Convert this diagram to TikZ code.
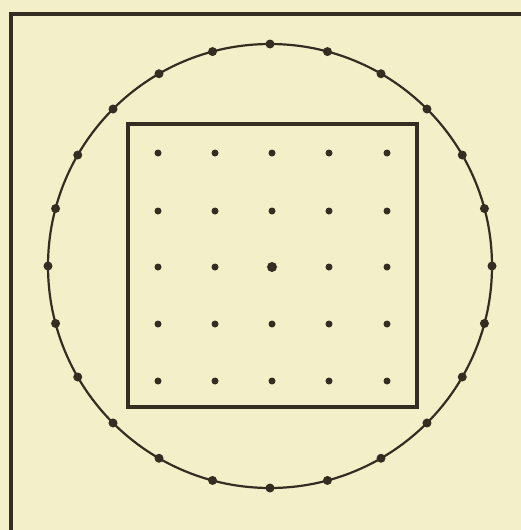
\documentclass[tikz,border=0pt]{standalone}
\usetikzlibrary{calc}
\definecolor{paper}{RGB}{243,239,200}
\definecolor{ink}{RGB}{52,46,34}
\begin{document}
\begin{tikzpicture}[x=1pt,y=-1pt,
  rimdot/.style={circle,fill=ink,inner sep=0pt,minimum size=9pt},
  griddot/.style={circle,fill=ink,inner sep=0pt,minimum size=7pt},
  bigdot/.style={circle,fill=ink,inner sep=0pt,minimum size=10pt}]
\fill[paper] (0,0) rectangle (521,530);
\useasboundingbox (0,0) rectangle (521,530);
% frame (left and top edges)
\draw[ink,line width=3.2pt] (11,531) -- (11,14) -- (522,14);
% circle
\coordinate (O) at (270,266);
\draw[ink,line width=2.2pt] (O) circle[radius=222];
\foreach \i in {0,...,23}{
  \node[rimdot] (r\i) at ($(O)+({90+15*\i}:222)$) {};
}
% square
\draw[ink,line width=3.2pt] (128,124) rectangle (417,407);
% grid of dots
\foreach \c/\x in {1/158,2/215,3/272,4/329,5/387}{
  \foreach \r/\y in {1/153,2/211,3/267,4/324,5/381}{
    \node[griddot] (g\c\r) at (\x,\y) {};
  }
}
\node[bigdot] (center) at (272,267) {};
\end{tikzpicture}
\end{document}
